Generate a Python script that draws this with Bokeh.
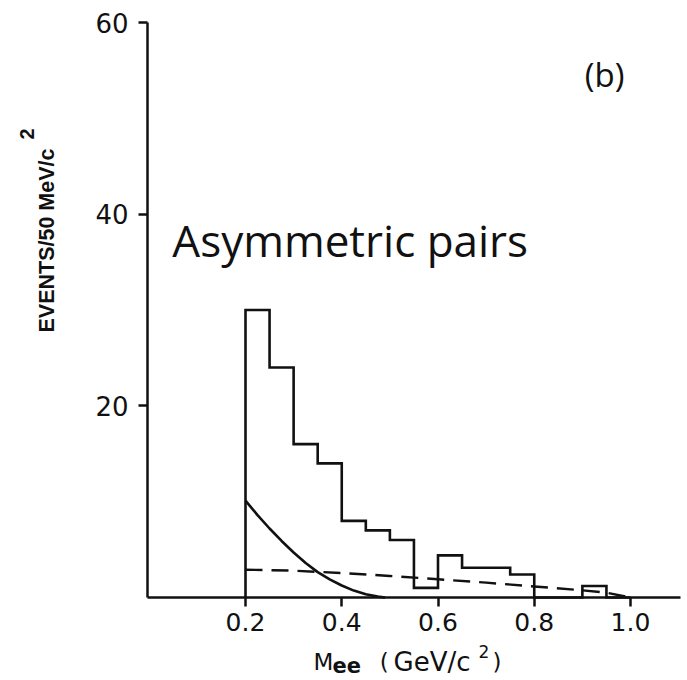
import math
from bokeh.plotting import figure
from bokeh.models import Range1d, LinearAxis, FixedTicker
from bokeh.core.properties import value
from bokeh.embed import file_html
from bokeh.resources import INLINE

# ---- data ----
bin_edges = [0.20, 0.25, 0.30, 0.35, 0.40, 0.45, 0.50, 0.55, 0.60,
             0.65, 0.70, 0.75, 0.80, 0.85, 0.90, 0.95, 1.00]
bin_counts = [30, 24, 16, 14, 8, 7, 6, 1, 4.4, 3.1, 3.1, 2.4, 0, 0, 1.2, 0]

curve_x = [0.200, 0.225, 0.250, 0.275, 0.300, 0.325, 0.350, 0.375,
           0.400, 0.425, 0.450, 0.475, 0.490]
curve_y = [10.1, 8.6, 7.2, 5.9, 4.7, 3.6, 2.65, 1.9,
           1.25, 0.72, 0.33, 0.09, 0.0]

dash_x = [0.20, 0.30, 0.40, 0.50, 0.60, 0.70, 0.80, 0.90, 0.95, 1.00]
dash_y = [2.9, 2.8, 2.55, 2.25, 1.9, 1.55, 1.15, 0.75, 0.5, 0.0]

x_ticks = [0.2, 0.4, 0.6, 0.8, 1.0]
x_tick_labels = ["0.2", "0.4", "0.6", "0.8", "1.0"]
y_ticks = [20, 40, 60]
x_axis_span = (-0.0036, 1.104)
y_axis_span = (0, 60)

# ---- figure (frame covers the whole canvas; axes are pinned in data space) ----
p = figure(width=687, height=680, output_backend="svg", toolbar_location=None,
           x_range=Range1d(-0.30909, 1.11844), y_range=Range1d(-8.661, 62.296),
           x_axis_location=None, y_axis_location=None,
           min_border_left=0, min_border_right=0,
           min_border_top=0, min_border_bottom=0)
p.outline_line_color = None
p.xgrid.visible = False
p.ygrid.visible = False
p.background_fill_color = "white"
p.border_fill_color = "white"

ink = "#111111"

xa = LinearAxis(ticker=FixedTicker(ticks=x_ticks),
                major_label_overrides={t: l for t, l in zip(x_ticks, x_tick_labels)},
                fixed_location=y_axis_span[0], bounds=x_axis_span)
xa.axis_line_width = 2.5
xa.axis_line_color = ink
xa.major_tick_line_width = 2.5
xa.major_tick_line_color = ink
xa.major_tick_out = 9
xa.major_tick_in = 0
xa.minor_tick_out = 0
xa.minor_tick_in = 0
xa.major_label_text_font = "DejaVu Sans"
xa.major_label_text_font_size = "25px"
xa.major_label_text_color = ink
xa.major_label_standoff = 7
p.add_layout(xa, "below")

ya = LinearAxis(ticker=FixedTicker(ticks=y_ticks),
                fixed_location=x_axis_span[0], bounds=y_axis_span)
ya.axis_line_width = 2.5
ya.axis_line_color = ink
ya.major_tick_line_width = 2.5
ya.major_tick_line_color = ink
ya.major_tick_out = 9
ya.major_tick_in = 0
ya.minor_tick_out = 0
ya.minor_tick_in = 0
ya.major_label_text_font = "DejaVu Sans"
ya.major_label_text_font_size = "26px"
ya.major_label_text_color = ink
ya.major_label_standoff = 10
p.add_layout(ya, "left")

# histogram outline built from the bins
hx = [bin_edges[0]]
hy = [0]
for i, c in enumerate(bin_counts):
    hx += [bin_edges[i], bin_edges[i + 1]]
    hy += [c, c]
hx.append(bin_edges[-1])
hy.append(0)
p.line(hx, hy, line_color=ink, line_width=2.6, line_join="miter")

p.line(curve_x, curve_y, line_color=ink, line_width=2.6)
p.line(dash_x, dash_y, line_color=ink, line_width=2.4, line_dash="17 9")

# ---- texts ----
def lab(text, x, y, font, size, style="normal", angle=0.0):
    p.text(x=[x], y=[y], text=[text], text_font=value(font), text_font_size=size,
           text_font_style=style, text_color=ink, angle=angle,
           text_align="left", text_baseline="alphabetic")

lab("Asymmetric pairs", 0.048, 37.3, "Open Sans", "44px")
lab("(b)", 0.905, 54.55, "Open Sans", "33px")

# y axis title
lab("EVENTS/50 MeV/c", -0.2115, 27.65, "Liberation Sans", "21.5px", "bold",
    angle=math.pi / 2)
lab("2", -0.254, 47.8, "Liberation Sans", "20px", "bold", angle=math.pi / 2)

# x axis title
lab("M", 0.3413, -6.72, "DejaVu Sans", "23px")
lab("ee", 0.381, -7.05, "DejaVu Sans", "21px", "bold")
lab("(", 0.4789, -6.72, "DejaVu Sans", "23px")
lab("GeV/c", 0.5075, -6.68, "DejaVu Sans", "26px")
lab("2", 0.684, -5.62, "DejaVu Sans", "17px")
lab(")", 0.713, -6.72, "DejaVu Sans", "23px")

open("out.html", "w").write(file_html(p, INLINE))
